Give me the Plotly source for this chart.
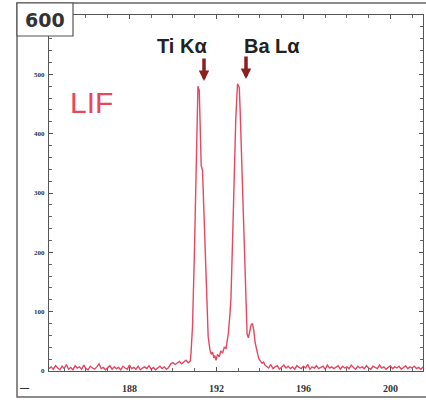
import numpy as np
import plotly.graph_objects as go

# ---- data ----
left_start, step = 184.3, 0.1
left_baseline = [4,7,3,9,5,2,8,4,11,3,6,2,9,5,7,3,10,4,2,8,5,3,7,12,4,6,2,5,9,3,
                 7,4,6,2,8,5,3,10,4,6,3,8,2,5,7,4,9,3,6,2,5,8,4,7,3,6,
                 12,14,11,13,16,12,15,18,14,17]
peak_x = [190.83,190.90,190.98,191.03,191.09,191.15,191.21,191.26,191.30,191.36,
          191.41,191.45,191.49,191.55,191.62,191.70,191.76,191.82,191.88,191.93,
          191.98,192.05,192.13,192.20,192.28,192.36,192.44,192.50,192.55,192.62,
          192.67,192.74,192.82,192.89,192.97,193.05,193.09,193.14,193.20,193.28,
          193.35,193.41,193.47,193.53,193.60,193.66,193.72,193.78,193.84,193.90,
          193.96,194.03,194.10,194.17,194.23]
peak_y = [30,75,188,280,405,480,473,414,346,338,
          285,272,217,132,58,36,28,32,22,26,
          18,28,24,34,30,40,38,52,64,95,
          125,217,329,425,484,478,440,380,290,190,
          110,62,56,66,78,80,68,48,36,28,
          20,16,13,15,10]
right_start = 194.3
right_baseline = [8,5,11,4,7,9,3,6,10,5,8,4,7,3,9,6,4,8,5,11,3,7,5,9,4,6,8,3,10,5,
                  7,4,6,9,3,8,5,7,4,10,6,3,8,5,7,4,9,5,3,8,6,4,10,5,7,3,6,9,4,7,
                  5,8,3,6,9,4,7,5,8,4,6,3,7]
x_ticks = [188, 192, 196, 200]
y_ticks = [0, 100, 200, 300, 400, 500]
peak_labels = ["Ti Kα", "Ba Lα"]
crystal = "LIF"
y_top_label = "600"

left_x = np.round(left_start + step * np.arange(len(left_baseline)), 3)
right_x = np.round(right_start + step * np.arange(len(right_baseline)), 3)
xs = list(left_x) + peak_x + list(right_x)
ys = left_baseline + peak_y + right_baseline

W, H = 426, 400
ml, mr, mt, mb = 49, 3, 15, 29
pw, ph = W - ml - mr, H - mt - mb
def px(x): return (x - ml) / pw
def py(y): return (H - mb - y) / ph

fig = go.Figure()
fig.add_trace(go.Scatter(x=xs, y=ys, mode="lines",
                         line=dict(color="#e44862", width=1.4), hoverinfo="skip"))

axis_common = dict(showgrid=False, zeroline=False, showline=True, linecolor="#555",
                   linewidth=1, mirror="ticks", ticks="inside", tickcolor="#555",
                   ticklen=4)
fig.update_xaxes(range=[184.3, 201.5], tickvals=x_ticks,
                 ticktext=["<b>%d</b>" % v for v in x_ticks],
                 tickfont=dict(family="Liberation Serif", size=10, color="#333"),
                 minor=dict(dtick=1, ticks="inside", ticklen=3, tickcolor="#666"),
                 ticklabelstandoff=8, **axis_common)
fig.update_yaxes(range=[0, 600], tickvals=y_ticks,
                 ticktext=["<b>%d</b>" % v for v in y_ticks],
                 tickfont=dict(family="Liberation Serif", size=7, color="#333"),
                 minor=dict(dtick=20, ticks="inside", ticklen=3, tickcolor="#666"),
                 ticklabelstandoff=2, **axis_common)

shapes = [
    dict(type="rect", xref="paper", yref="paper", x0=px(17), x1=px(430), y0=py(397), y1=py(3),
         line=dict(color="#666", width=1.5), fillcolor="rgba(0,0,0,0)", layer="below"),
    dict(type="rect", xref="paper", yref="paper", x0=px(17), x1=px(73), y0=py(36), y1=py(3),
         line=dict(color="#555", width=1.2), fillcolor="white", layer="above"),
]

def txt(s, x, y, size, color, family="Liberation Sans"):
    return dict(text=s, x=px(x), y=py(y), xref="paper", yref="paper", showarrow=False,
                xanchor="center", yanchor="middle",
                font=dict(family=family, size=size, color=color))

def arrow(x, y):
    return dict(text="", x=px(x), y=py(y), xref="paper", yref="paper", showarrow=True,
                ax=0, ay=-24, arrowhead=2, arrowwidth=3.5, arrowsize=0.6,
                arrowcolor="#8b2020")

annotations = [
    txt("<b>%s</b>" % y_top_label, 45, 20, 19, "#333", "DejaVu Sans"),
    txt(crystal, 91, 102, 30, "#e8465a"),
    txt("<b>%s</b>" % peak_labels[0], 182, 46, 20, "#222"),
    txt("<b>%s</b>" % peak_labels[1], 272, 46, 20, "#222"),
    arrow(204, 81),
    arrow(246, 79),
    txt("<b>—</b>", 25, 388, 9, "#333"),
]

fig.update_layout(width=W, height=H, margin=dict(l=ml, r=mr, t=mt, b=mb),
                  paper_bgcolor="white", plot_bgcolor="white", showlegend=False,
                  shapes=shapes, annotations=annotations)
fig.write_html("out.html")
